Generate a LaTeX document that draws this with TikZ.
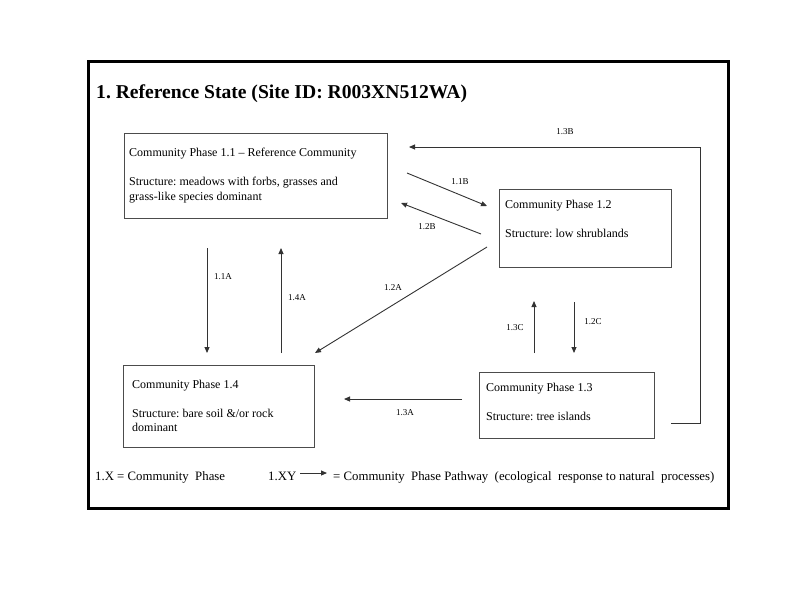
\documentclass[tikz,border=0pt]{standalone}
\usepackage{fontspec}
\setmainfont{Liberation Serif}
\usetikzlibrary{arrows.meta}
\frenchspacing
\begin{document}
\frenchspacing
\begin{tikzpicture}[x=1pt,y=-1pt,
  box/.style={draw=black!70, line width=1pt, inner sep=0pt, anchor=north west},
  txt/.style={anchor=base west, inner sep=0pt, font=\fontsize{12}{14}\selectfont},
  leg/.style={anchor=base west, inner sep=0pt, font=\fontsize{12.8}{14}\selectfont},
  lbl/.style={inner sep=0pt, font=\fontsize{9}{10}\selectfont},
  conn/.style={draw=black!80, line width=0.9pt, -{Triangle[length=6pt,width=5pt]}},
]
\useasboundingbox (0,0) rectangle (800,600);
\node[draw=black, line width=2.5pt, minimum width=640pt, minimum height=447pt, anchor=north west, inner sep=0pt] (frame) at (87,60) {};
\node[anchor=base west, inner sep=0pt, font=\fontsize{19.6}{22}\selectfont\bfseries] (title) at (96,98) {1. Reference State (Site ID: R003XN512WA)};

% boxes
\node[box, minimum width=263pt, minimum height=85pt] (p11) at (124,133) {};
\node[box, minimum width=172pt, minimum height=78pt] (p12) at (499,189) {};
\node[box, minimum width=191pt, minimum height=82pt] (p14) at (123,365) {};
\node[box, minimum width=175pt, minimum height=66pt] (p13) at (479,372) {};

% box texts
\node[txt] (t11a) at (129,156) {Community Phase 1.1 – Reference Community};
\node[txt] (t11b) at (129,185) {Structure: meadows with forbs, grasses and};
\node[txt] (t11c) at (129,200) {grass-like species dominant};
\node[txt] (t12a) at (505,208) {Community Phase 1.2};
\node[txt] (t12b) at (505,237) {Structure: low shrublands};
\node[txt] (t14a) at (132,388) {Community Phase 1.4};
\node[txt] (t14b) at (132,417) {Structure: bare soil \&/or rock};
\node[txt] (t14c) at (132,431) {dominant};
\node[txt] (t13a) at (486,391) {Community Phase 1.3};
\node[txt] (t13b) at (486,420) {Structure: tree islands};

% connector end points
\coordinate (a13b0) at (671,423);
\coordinate (a13b1) at (700,423);
\coordinate (a13b2) at (700,147);
\coordinate (a13b3) at (409,147);
\coordinate (a11b0) at (407,173);
\coordinate (a11b1) at (487,206);
\coordinate (a12b0) at (481,234);
\coordinate (a12b1) at (401,203);
\coordinate (a12a0) at (487,247);
\coordinate (a12a1) at (315,353);
\coordinate (a11a0) at (207,248);
\coordinate (a11a1) at (207,353);
\coordinate (a14a0) at (281,353);
\coordinate (a14a1) at (281,248);
\coordinate (a13a0) at (462,399);
\coordinate (a13a1) at (344,399);
\coordinate (a13c0) at (534,353);
\coordinate (a13c1) at (534,301);
\coordinate (a12c0) at (574,302);
\coordinate (a12c1) at (574,353);
\coordinate (lg0) at (300,473);
\coordinate (lg1) at (327,473);

% connectors
\draw[conn] (a13b0) -- (a13b1) -- (a13b2) -- (a13b3);
\draw[conn] (a11b0) -- (a11b1);
\draw[conn] (a12b0) -- (a12b1);
\draw[conn] (a12a0) -- (a12a1);
\draw[conn] (a11a0) -- (a11a1);
\draw[conn] (a14a0) -- (a14a1);
\draw[conn] (a13a0) -- (a13a1);
\draw[conn] (a13c0) -- (a13c1);
\draw[conn] (a12c0) -- (a12c1);
\draw[conn] (lg0) -- (lg1);

% labels
\node[lbl] (l13b) at (565,132) {1.3B};
\node[lbl] (l11b) at (460,182) {1.1B};
\node[lbl] (l12b) at (427,227) {1.2B};
\node[lbl] (l12a) at (393,288) {1.2A};
\node[lbl] (l11a) at (223,277) {1.1A};
\node[lbl] (l14a) at (297,298) {1.4A};
\node[lbl] (l13a) at (405,413) {1.3A};
\node[lbl] (l13c) at (515,328) {1.3C};
\node[lbl] (l12c) at (593,322) {1.2C};

% legend
\node[leg] (leg1) at (95,480) {1.X = Community\ \ Phase};
\node[leg] (leg2) at (268,480) {1.XY};
\node[leg] (leg3) at (333,480) {= Community\ \ Phase Pathway\ \ (ecological\ \ response to natural\ \ processes)};
\end{tikzpicture}
\end{document}
